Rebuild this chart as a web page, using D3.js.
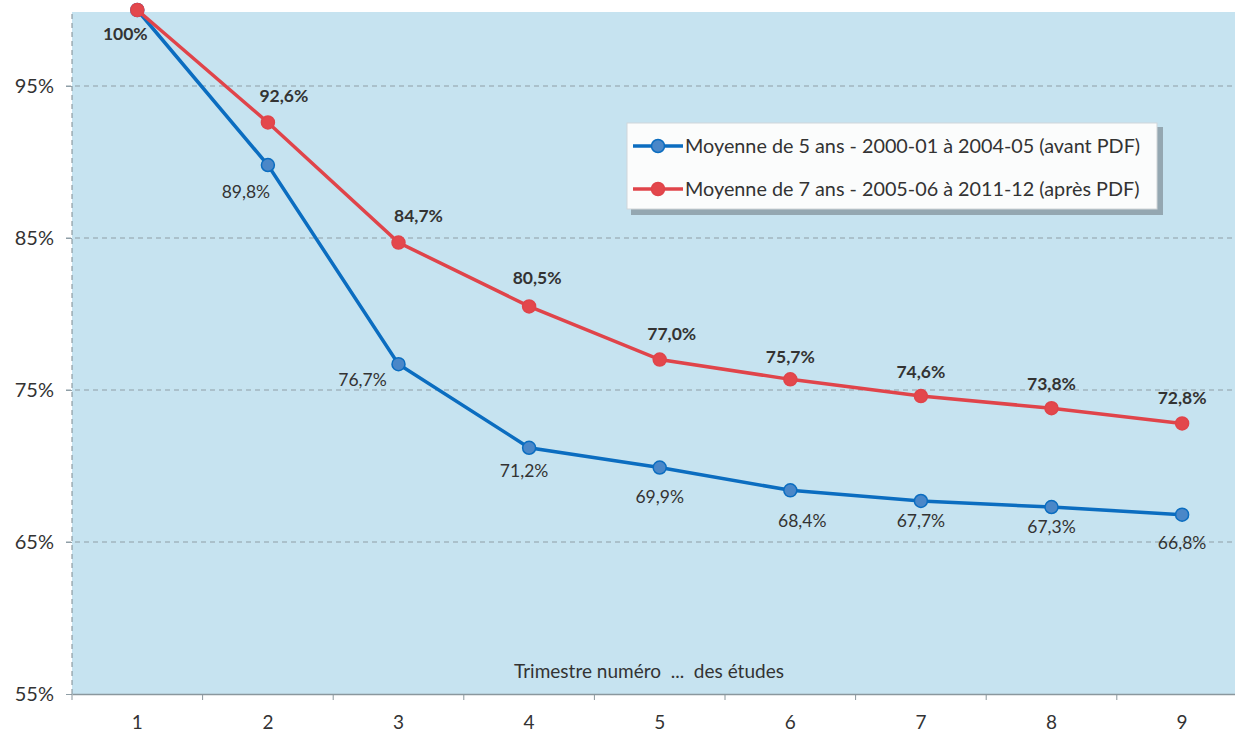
<!DOCTYPE html>
<html lang="fr">
<head>
<meta charset="UTF-8">
<title>Taux de rétention par trimestre</title>
<script src="https://d3js.org/d3.v7.min.js"></script>
<style>
  body { margin: 0; background: #fff; }
  text { font-family: Lato, "Open Sans", sans-serif; }
</style>
</head>
<body>
<div id="chart"></div>
<script>
const trimestres = ["1", "2", "3", "4", "5", "6", "7", "8", "9"];
const avantPDF = [100, 89.8, 76.7, 71.2, 69.9, 68.4, 67.7, 67.3, 66.8];
const apresPDF = [100, 92.6, 84.7, 80.5, 77.0, 75.7, 74.6, 73.8, 72.8];
const yTicks = [55, 65, 75, 85, 95];
const legendLabels = [
  "Moyenne de 5 ans - 2000-01 à 2004-05 (avant PDF)",
  "Moyenne de 7 ans - 2005-06 à 2011-12 (après PDF)"
];

const W = 1235, H = 736;
const margin = {top: 10, left: 72, bottom: 42};
const plotBottom = H - margin.bottom;

const svg = d3.select("#chart").append("svg")
  .attr("width", W).attr("height", H);

const x = d3.scaleBand()
  .domain(trimestres)
  .range([margin.left, margin.left + 9 * 130.6]);

const y = d3.scaleLinear()
  .domain([55, 100])
  .range([plotBottom, margin.top]);

const fmt = v => v === 100 ? "100%" : v.toFixed(1).replace(".", ",") + "%";

// plot background
svg.append("rect")
  .attr("x", margin.left).attr("y", 12)
  .attr("width", W - margin.left).attr("height", plotBottom - 12)
  .attr("fill", "#c6e3f0");

// gridlines
svg.append("g")
  .selectAll("line")
  .data(yTicks.slice(1))
  .join("line")
    .attr("x1", margin.left - 6).attr("x2", W)
    .attr("y1", d => y(d)).attr("y2", d => y(d))
    .attr("stroke", "#8f9ea6")
    .attr("stroke-width", 1)
    .attr("stroke-dasharray", "5,4");

// y axis
const yAxis = svg.append("g")
  .attr("transform", `translate(${margin.left},0)`)
  .call(d3.axisLeft(y).tickValues(yTicks).tickFormat(d => d + "%").tickSize(6).tickPadding(12));
yAxis.select(".domain")
  .attr("d", `M0,${plotBottom}V12`)
  .attr("stroke", "#7d8a90")
  .attr("stroke-dasharray", "5,4");
yAxis.selectAll(".tick line").attr("stroke", "#8f9ea6");
yAxis.selectAll("text")
  .attr("font-size", 20).attr("fill", "#333");

// x axis
const xAxis = svg.append("g")
  .attr("transform", `translate(0,${plotBottom})`)
  .call(d3.axisBottom(x).tickSize(0).tickPadding(22));
xAxis.select(".domain").attr("stroke", "#8a979d").attr("stroke-width", 1.5);
xAxis.selectAll("text").attr("font-size", 19).attr("fill", "#333");
xAxis.selectAll(".sep")
  .data(trimestres)
  .join("line")
    .attr("class", "sep")
    .attr("x1", d => x(d)).attr("x2", d => x(d))
    .attr("y1", 0).attr("y2", 6)
    .attr("stroke", "#8a979d");

svg.append("text")
  .attr("x", 649).attr("y", 678)
  .attr("text-anchor", "middle")
  .attr("font-size", 19).attr("fill", "#333")
  .attr("xml:space", "preserve")
  .style("white-space", "pre")
  .text("Trimestre numéro  ...  des études");

const cx = d => x(d) + x.bandwidth() / 2;
const line = d3.line()
  .x((d, i) => cx(trimestres[i]))
  .y(d => y(d));

const series = [
  {values: avantPDF, line: "#0b6dc0", dot: "#4a87c8"},
  {values: apresPDF, line: "#e0444a", dot: "#e3474c"}
];

series.forEach(s => {
  svg.append("path")
    .datum(s.values)
    .attr("fill", "none")
    .attr("stroke", s.line)
    .attr("stroke-width", 3.5)
    .attr("d", line);
  svg.append("g")
    .selectAll("circle")
    .data(s.values)
    .join("circle")
      .attr("cx", (d, i) => cx(trimestres[i]))
      .attr("cy", d => y(d))
      .attr("r", 6.5)
      .attr("fill", s.dot)
      .attr("stroke", s.line)
      .attr("stroke-width", 1.5);
});

// labels for the blue series (below)
const blueOff = [[-12, 30], [-22, 33], [-36, 22], [-5, 29], [0, 35], [12, 37], [0, 26], [0, 26], [0, 34]];
svg.append("g")
  .selectAll("text")
  .data(avantPDF)
  .join("text")
    .attr("x", (d, i) => cx(trimestres[i]) + blueOff[i][0])
    .attr("y", (d, i) => y(d) + blueOff[i][1])
    .attr("text-anchor", "middle")
    .attr("font-size", 17.5)
    .attr("font-weight", (d, i) => i === 0 ? "bold" : "normal")
    .attr("fill", "#333")
    .text(fmt);

// labels for the red series (above)
const redOff = [[14, -18], [16, -20], [20, -21], [8, -22], [12, -20], [0, -16], [0, -18], [0, -18], [0, -19]];
svg.append("g")
  .selectAll("text")
  .data(apresPDF)
  .join("text")
    .filter((d, i) => i > 0)
    .attr("x", function(d) { const i = apresPDF.indexOf(d); return cx(trimestres[i]) + redOff[i][0]; })
    .attr("y", function(d) { const i = apresPDF.indexOf(d); return y(d) + redOff[i][1]; })
    .attr("text-anchor", "middle")
    .attr("font-size", 17.5)
    .attr("font-weight", "bold")
    .attr("fill", "#333")
    .text(fmt);

// legend
const lg = svg.append("g").attr("transform", "translate(627,123)");
lg.append("rect")
  .attr("x", 4).attr("y", 4).attr("width", 532).attr("height", 88)
  .attr("fill", "#7f8d95").attr("opacity", 0.7);
lg.append("rect")
  .attr("width", 530).attr("height", 86)
  .attr("fill", "#fbfcfc").attr("stroke", "#d0d6d9");
legendLabels.forEach((t, i) => {
  const yy = 23 + i * 43;
  lg.append("line")
    .attr("x1", 6).attr("x2", 56).attr("y1", yy).attr("y2", yy)
    .attr("stroke", series[i].line).attr("stroke-width", 3.5);
  lg.append("circle")
    .attr("cx", 31).attr("cy", yy).attr("r", 6.5)
    .attr("fill", series[i].dot).attr("stroke", series[i].line).attr("stroke-width", 1.5);
  lg.append("text")
    .attr("x", 58).attr("y", yy + 7)
    .attr("font-size", 19.8).attr("fill", "#333")
    .text(t);
});
</script>
</body>
</html>
